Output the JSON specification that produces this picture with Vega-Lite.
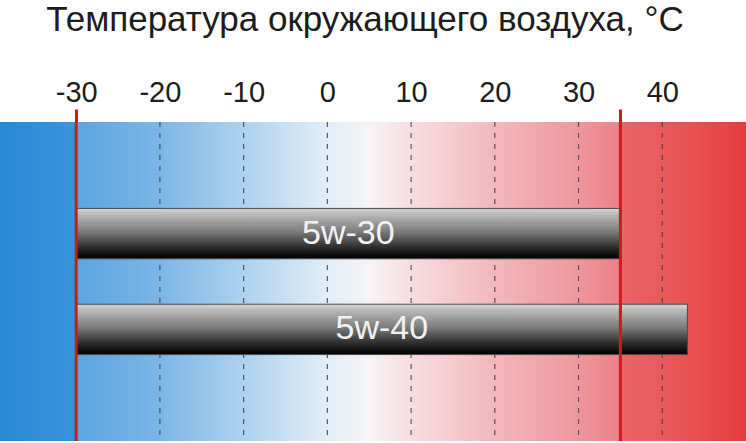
{
  "$schema": "https://vega.github.io/schema/vega-lite/v6.json",
  "width": 746,
  "height": 443,
  "autosize": {"type": "fit", "contains": "padding"},
  "padding": {"top": 3, "left": 0, "right": 0, "bottom": 0},
  "background": "white",
  "title": {
    "text": "Температура окружающего воздуха, °C",
    "font": "Liberation Sans",
    "fontSize": 35,
    "fontWeight": "normal",
    "color": "#1c1c1c",
    "anchor": "middle",
    "dx": -8,
    "offset": 40
  },
  "datasets": {
    "band": [{"from": -39.1, "to": 50}],
    "grid": [{"t": -20}, {"t": -10}, {"t": 0}, {"t": 10}, {"t": 20}, {"t": 30}, {"t": 40}],
    "limits": [{"t": -30}, {"t": 35}],
    "oils": [
      {"oil": "5w-30", "min": -30, "max": 35},
      {"oil": "5w-40", "min": -30, "max": 43}
    ]
  },
  "layer": [
    {
      "data": {"name": "band"},
      "mark": {
        "type": "rect",
        "fill": {
          "gradient": "linear",
          "x1": 0, "y1": 0, "x2": 1, "y2": 0,
          "stops": [
            {"offset": 0, "color": "#2a88d4"},
            {"offset": 0.1, "color": "#3893db"},
            {"offset": 0.1021, "color": "#5ba5e2"},
            {"offset": 0.2144, "color": "#7cb6e6"},
            {"offset": 0.327, "color": "#aed2ef"},
            {"offset": 0.4388, "color": "#e2edf6"},
            {"offset": 0.495, "color": "#f6f4f6"},
            {"offset": 0.551, "color": "#f7dde0"},
            {"offset": 0.663, "color": "#f2b8bd"},
            {"offset": 0.776, "color": "#ee979c"},
            {"offset": 0.829, "color": "#ec8288"},
            {"offset": 0.8316, "color": "#ea6669"},
            {"offset": 0.93, "color": "#e85051"},
            {"offset": 1, "color": "#e53c3d"}
          ]
        }
      },
      "encoding": {
        "x": {
          "field": "from",
          "type": "quantitative",
          "scale": {"domain": [-39.1, 50], "nice": false, "zero": false},
          "axis": {
            "orient": "top",
            "title": null,
            "values": [-30, -20, -10, 0, 10, 20, 30, 35, 40],
            "labelExpr": "datum.value == 35 ? '' : '' + datum.value",
            "domain": false,
            "grid": false,
            "ticks": true,
            "tickSize": 13,
            "tickWidth": 3,
            "tickColor": {
              "condition": {"test": "datum.value === -30 || datum.value === 35", "value": "#cf1820"},
              "value": "rgba(0,0,0,0)"
            },
            "labelFont": "Liberation Sans",
            "labelFontSize": 29,
            "labelColor": "#1c1c1c",
            "labelPadding": 2
          }
        },
        "x2": {"field": "to"}
      }
    },
    {
      "data": {"name": "grid"},
      "mark": {"type": "rule", "color": "#3c3c5a", "strokeWidth": 1.2, "strokeDash": [5, 6], "opacity": 0.85},
      "encoding": {"x": {"field": "t", "type": "quantitative"}}
    },
    {
      "data": {"name": "oils"},
      "mark": {
        "type": "bar",
        "stroke": "#4a4a4a",
        "strokeWidth": 1,
        "fill": {
          "gradient": "linear",
          "x1": 0, "y1": 0, "x2": 0, "y2": 1,
          "stops": [
            {"offset": 0, "color": "#d6d6d6"},
            {"offset": 0.1, "color": "#bdbdbd"},
            {"offset": 0.45, "color": "#7e7e7e"},
            {"offset": 0.8, "color": "#262626"},
            {"offset": 1, "color": "#000000"}
          ]
        }
      },
      "encoding": {
        "x": {"field": "min", "type": "quantitative"},
        "x2": {"field": "max"},
        "y": {
          "field": "oil",
          "type": "nominal",
          "axis": null,
          "scale": {"paddingInner": 0.474, "paddingOuter": 0.902}
        }
      }
    },
    {
      "data": {"name": "oils"},
      "transform": [{"calculate": "(datum.min + datum.max) / 2", "as": "mid"}],
      "mark": {
        "type": "text",
        "font": "Liberation Sans",
        "fontSize": 34,
        "color": "#f2f2f2",
        "align": "center",
        "baseline": "middle"
      },
      "encoding": {
        "x": {"field": "mid", "type": "quantitative"},
        "y": {"field": "oil", "type": "nominal", "axis": null},
        "text": {"field": "oil"}
      }
    },
    {
      "data": {"name": "limits"},
      "mark": {"type": "rule", "color": "#cf1820", "strokeWidth": 3},
      "encoding": {"x": {"field": "t", "type": "quantitative"}}
    }
  ],
  "config": {"view": {"stroke": null}}
}
